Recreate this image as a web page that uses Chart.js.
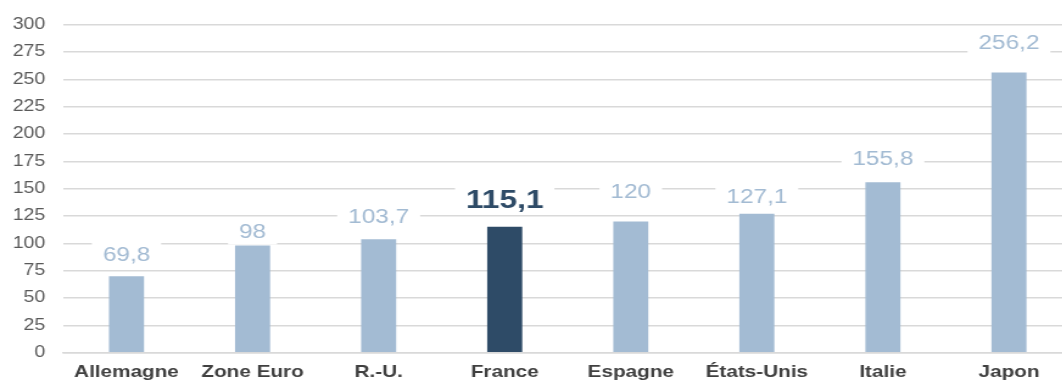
<!DOCTYPE html>
<html>
<head>
<meta charset="utf-8">
<script src="https://cdn.jsdelivr.net/npm/chart.js@4.4.1/dist/chart.umd.min.js"></script>
<style>
  html, body { margin: 0; padding: 0; background: #ffffff; overflow: hidden; }
  #wrap { width: 1062px; height: 383px; overflow: hidden; }
</style>
</head>
<body>
<div id="wrap">
<canvas id="c" width="880" height="383" style="width:1072px;height:383px;display:block;"></canvas>
</div>
<script>
const categories = ['Allemagne', 'Zone Euro', 'R.-U.', 'France', 'Espagne', 'États-Unis', 'Italie', 'Japon'];
const values = [69.8, 98, 103.7, 115.1, 120, 127.1, 155.8, 256.2];
const highlightIndex = 3;
const yTicks = [0, 25, 50, 75, 100, 125, 150, 175, 200, 225, 250, 275, 300];

const LIGHT = '#a3bbd3';
const DARK = '#2e4b67';
const FONT = '"Liberation Sans", Arial, sans-serif';

const fmt = v => String(v).replace('.', ',');

const valueLabels = {
  id: 'valueLabels',
  afterDatasetsDraw(chart, args, opts) {
    const ctx = chart.ctx;
    const meta = chart.getDatasetMeta(0);
    const offsets = opts.offsets || [];
    meta.data.forEach((bar, i) => {
      const hl = i === highlightIndex;
      const txt = fmt(values[i]);
      const size = hl ? 26 : 20;
      ctx.save();
      ctx.font = (hl ? 'bold ' : '') + size + 'px ' + FONT;
      const w = ctx.measureText(txt).width;
      const padX = hl ? 9 : 9;
      const cy = bar.y - (offsets[i] != null ? offsets[i] : 22);
      const bh = hl ? 30 : 27;
      ctx.fillStyle = '#ffffff';
      ctx.fillRect(bar.x - w / 2 - padX, cy - bh / 2, w + 2 * padX, bh);
      ctx.fillStyle = hl ? DARK : LIGHT;
      ctx.textAlign = 'center';
      ctx.textBaseline = 'middle';
      ctx.fillText(txt, bar.x, cy + 1);
      ctx.restore();
    });
  }
};

new Chart(document.getElementById('c'), {
  type: 'bar',
  data: {
    labels: categories,
    datasets: [{
      data: values,
      backgroundColor: values.map((v, i) => i === highlightIndex ? DARK : LIGHT),
      borderWidth: 0,
      barPercentage: 0.278,
      categoryPercentage: 1.0
    }]
  },
  options: {
    responsive: false,
    animation: false,
    events: [],
    layout: { padding: { top: 22.3, right: 0, left: 0, bottom: 0 } },
    plugins: {
      legend: { display: false },
      tooltip: { enabled: false },
      valueLabels: { offsets: [21.5, 14.5, 23, 27, 30, 17.5, 24, 30] }
    },
    scales: {
      x: {
        grid: { display: false, drawTicks: false },
        border: { display: true, color: '#d9d9d9', width: 1.5 },
        ticks: {
          color: '#404040',
          font: { family: FONT, size: 17, weight: 'bold' },
          padding: 9,
          maxRotation: 0,
          autoSkip: false
        },
        afterFit(s) { s.height = 30.3; }
      },
      y: {
        min: 0,
        max: 300,
        afterBuildTicks(s) { s.ticks = yTicks.map(v => ({ value: v })); },
        grid: { color: '#d9d9d9', lineWidth: 1.5, drawTicks: false },
        border: { display: false },
        ticks: {
          color: '#595959',
          font: { family: FONT, size: 16 },
          padding: 15
        },
        afterFit(s) { s.width = 52.1; }
      }
    }
  },
  plugins: [valueLabels]
});
</script>
</body>
</html>
